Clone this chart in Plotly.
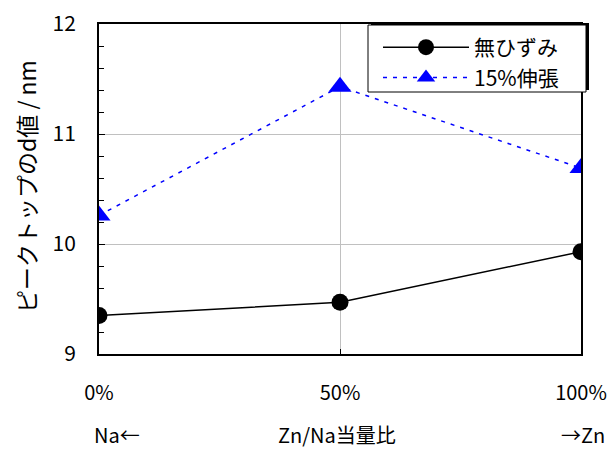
import plotly.graph_objects as go

# Zn/Na equivalent ratio (%) and peak-top d values (nm)
ratio = [0, 50, 100]
ratio_labels = ["0%", "50%", "100%"]
d_unstrained = [9.35, 9.47, 9.93]
d_stretched = [10.26, 11.43, 10.69]

FONT = "Noto Sans CJK JP"

fig = go.Figure()
fig.add_trace(go.Scatter(
    x=ratio, y=d_unstrained, name="無ひずみ", mode="lines+markers",
    line=dict(color="black", width=1.5),
    marker=dict(symbol="circle", size=17, color="black"),
))
fig.add_trace(go.Scatter(
    x=ratio, y=d_stretched, name="15%伸張", mode="lines+markers",
    line=dict(color="#0000ff", width=1.5, dash="4px,6px"),
    marker=dict(symbol="triangle-up", size=20, color="#0000ff"),
))

W, H = 611, 450
L, R, T, B = 99, 30, 24, 96
pw, ph = W - L - R, H - T - B

def px(xp):
    return (xp - L) / pw

def py(yp):
    return (H - B - yp) / ph

# legend frame with a small drop shadow
box_x0, box_x1, box_y0, box_y1 = 368, 586, 25, 92

def label(text, x, y, size=20, angle=0):
    return dict(text=text, textangle=angle, xref="paper", yref="paper",
                x=px(x), y=py(y), xanchor="center", yanchor="middle",
                showarrow=False, font=dict(size=size))

fig.update_layout(
    width=W, height=H,
    margin=dict(l=L, r=R, t=T, b=B, autoexpand=False),
    paper_bgcolor="white", plot_bgcolor="white",
    font=dict(family=FONT, size=21, color="black"),
    showlegend=True,
    legend=dict(
        x=px(378), y=py(box_y0 + 2), xanchor="left", yanchor="top",
        bgcolor="rgba(0,0,0,0)", borderwidth=0,
        font=dict(size=21), itemwidth=86, tracegroupgap=0,
    ),
    xaxis=dict(
        range=[0, 100], tickvals=ratio, ticktext=ratio_labels,
        showgrid=True, gridcolor="#c0c0c0", gridwidth=1,
        showline=True, linecolor="black", linewidth=2, mirror=True,
        ticks="inside", ticklen=5, tickcolor="black",
        ticklabelstandoff=20, zeroline=False, automargin=False,
        tickfont=dict(size=20),
    ),
    yaxis=dict(
        range=[9, 12], tickvals=[9, 10, 11, 12],
        showgrid=True, gridcolor="#c0c0c0", gridwidth=1,
        showline=True, linecolor="black", linewidth=2, mirror=True,
        ticks="inside", ticklen=6, tickcolor="black",
        minor=dict(dtick=0.2, ticks="inside", ticklen=5, tickcolor="black", showgrid=False),
        ticklabelstandoff=17, zeroline=False, automargin=False,
        tickfont=dict(size=21),
    ),
    shapes=[
        dict(type="rect", xref="paper", yref="paper",
             x0=px(box_x0 + 3), x1=px(box_x1 + 3), y0=py(box_y1 - 2), y1=py(box_y0 - 2),
             fillcolor="black", line=dict(width=0), layer="above"),
        dict(type="rect", xref="paper", yref="paper",
             x0=px(box_x0), x1=px(box_x1), y0=py(box_y1), y1=py(box_y0),
             fillcolor="white", line=dict(color="black", width=1), layer="above"),
    ],
    annotations=[
        label("ピークトップのd値 / nm", 26, 187, size=23, angle=-90),
        label("Na←", 117, 434),
        label("Zn/Na当量比", 337, 434),
        label("→Zn", 583, 434),
    ],
)

fig.write_html("out.html")
